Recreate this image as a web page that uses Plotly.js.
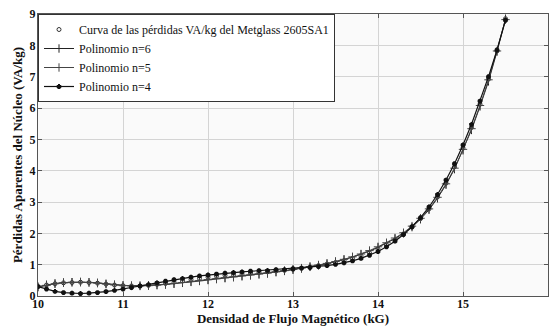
<!DOCTYPE html>
<html><head><meta charset="utf-8">
<script src="https://cdn.plot.ly/plotly-3.0.1.min.js"></script>
<style>html,body{margin:0;padding:0;background:#fff}#c{width:553px;height:327px}</style>
</head><body><div id="c"></div>
<script>
const B = [10.0,10.1,10.2,10.3,10.4,10.5,10.6,10.7,10.8,10.9,11.0,11.1,11.2,11.3,11.4,11.5,11.6,11.7,11.8,11.9,12.0,12.1,12.2,12.3,12.4,12.5,12.6,12.7,12.8,12.9,13.0,13.1,13.2,13.3,13.4,13.5,13.6,13.7,13.8,13.9,14.0,14.1,14.2,14.3,14.4,14.5,14.6,14.7,14.8,14.9,15.0,15.1,15.2,15.3,15.4,15.5];
const datos = [0.30,0.35,0.39,0.42,0.43,0.44,0.43,0.41,0.38,0.35,0.33,0.32,0.32,0.34,0.37,0.40,0.44,0.48,0.52,0.56,0.60,0.63,0.66,0.68,0.70,0.73,0.75,0.77,0.80,0.82,0.85,0.89,0.93,0.97,1.02,1.07,1.13,1.20,1.28,1.38,1.50,1.63,1.79,1.98,2.20,2.47,2.78,3.16,3.60,4.12,4.72,5.38,6.12,6.92,7.82,8.85];
const poli6 = [0.30,0.36,0.40,0.43,0.44,0.45,0.44,0.42,0.39,0.36,0.34,0.33,0.33,0.34,0.35,0.37,0.39,0.42,0.45,0.48,0.51,0.54,0.57,0.60,0.63,0.66,0.69,0.72,0.76,0.80,0.84,0.88,0.93,0.98,1.03,1.09,1.16,1.24,1.33,1.43,1.55,1.68,1.83,2.00,2.20,2.45,2.75,3.12,3.55,4.05,4.65,5.30,6.05,6.85,7.80,8.85];
const poli5 = [0.28,0.34,0.39,0.42,0.44,0.44,0.43,0.41,0.38,0.35,0.33,0.32,0.32,0.33,0.35,0.37,0.40,0.43,0.46,0.49,0.52,0.55,0.58,0.61,0.64,0.67,0.70,0.73,0.77,0.81,0.85,0.89,0.94,0.99,1.04,1.10,1.17,1.25,1.34,1.45,1.57,1.70,1.85,2.02,2.23,2.48,2.78,3.15,3.58,4.08,4.68,5.34,6.08,6.90,7.82,8.82];
const poli4 = [0.30,0.22,0.15,0.11,0.09,0.08,0.09,0.11,0.14,0.18,0.22,0.27,0.32,0.37,0.42,0.47,0.52,0.56,0.60,0.64,0.67,0.70,0.73,0.75,0.77,0.79,0.81,0.82,0.84,0.85,0.87,0.89,0.91,0.94,0.97,1.01,1.06,1.12,1.20,1.30,1.42,1.57,1.75,1.96,2.21,2.50,2.84,3.24,3.70,4.22,4.82,5.48,6.22,7.00,7.85,8.80];
const nombres = ['Curva de las pérdidas VA/kg del Metglass 2605SA1','Polinomio n=6','Polinomio n=5','Polinomio n=4'];
const xTicks = [10,11,12,13,14,15,16];
const yTicks = [0,1,2,3,4,5,6,7,8,9];

const serif = '"Liberation Serif", "Times New Roman", serif';
const traces = [
  {x:B, y:datos, name:nombres[0], mode:'markers', marker:{symbol:'circle-open', size:4, color:'#333', line:{width:1}}},
  {x:B, y:poli6, name:nombres[1], mode:'lines+markers', line:{color:'#222', width:1}, marker:{symbol:'line-ns-open', size:6, color:'#222', line:{width:1}}},
  {x:B, y:poli5, name:nombres[2], mode:'lines+markers', line:{color:'#444', width:1}, marker:{symbol:'cross-thin-open', size:6, color:'#444', line:{width:1}}},
  {x:B, y:poli4, name:nombres[3], mode:'lines+markers', line:{color:'#111', width:1.2}, marker:{symbol:'asterisk-open', size:4, color:'#111', line:{width:2}}}
];
const ax = {showline:true, mirror:'ticks', linecolor:'#555', linewidth:1, ticks:'inside', ticklen:4, tickcolor:'#555',
  showgrid:true, gridcolor:'#d4d4d4', gridwidth:1, zeroline:false, automargin:false,
  tickfont:{family:serif, size:12, color:'#111', weight:'bold'}};
const layout = {
  width:553, height:327, margin:{l:38, r:5, t:14, b:31},
  paper_bgcolor:'#ffffff', plot_bgcolor:'#fafafa',
  showlegend:true,
  legend:{x:0, y:1, xanchor:'left', yanchor:'top', bgcolor:'#ffffff', bordercolor:'#333', borderwidth:1,
    font:{family:serif, size:12, color:'#111'}, itemwidth:30, tracegroupgap:0},
  xaxis:Object.assign({}, ax, {range:[10,16], tickvals:xTicks, ticktext:xTicks.map(String), ticklabelstandoff:-3,
    title:{text:'Densidad de Flujo Magnético (kG)', standoff:0, font:{family:serif, size:13, color:'#111', weight:'bold'}}}),
  yaxis:Object.assign({}, ax, {range:[0,9], tickvals:yTicks, ticktext:yTicks.map(String), ticklabelstandoff:-1,
    title:{text:'Pérdidas Aparentes del Núcleo (VA/kg)', standoff:4, font:{family:serif, size:13, color:'#111', weight:'bold'}}})
};
Plotly.newPlot('c', traces, layout, {displayModeBar:false, staticPlot:true});
</script>
</body></html>
